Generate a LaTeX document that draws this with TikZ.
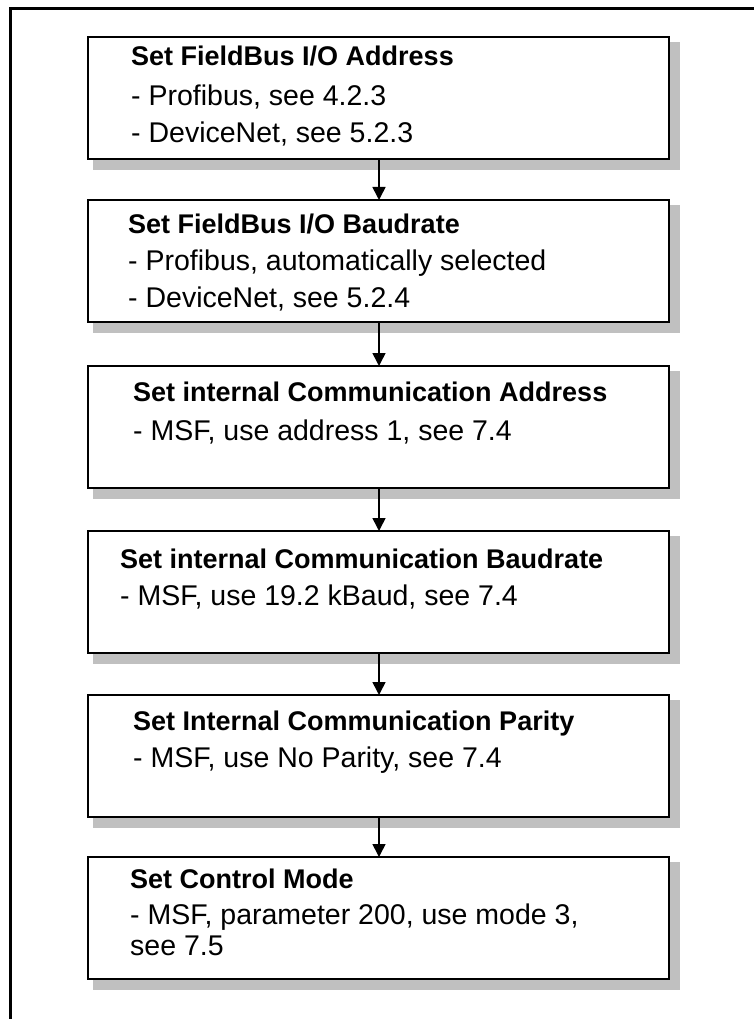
\documentclass[tikz,border=0pt]{standalone}
\usepackage{fontspec}
\setmainfont{Liberation Sans}
\usetikzlibrary{arrows.meta,backgrounds,calc}
\definecolor{shadowgray}{RGB}{192,192,192}
\begin{document}
\begin{tikzpicture}[x=1pt,y=-1pt,
  stepbox/.style={draw=black,line width=2.4pt,fill=white,minimum width=581pt,minimum height=122pt,anchor=north west,inner sep=0pt,outer sep=0pt},
  title/.style={anchor=base west,inner sep=0pt,font=\fontsize{27}{30}\selectfont\bfseries},
  body/.style={anchor=base west,inner sep=0pt,font=\fontsize{28.5}{30}\selectfont},
  flow/.style={line width=1.6pt,-{Triangle[width=13pt,length=13pt]}},
  frame/.style={line width=3pt}
]
\useasboundingbox (0,0) rectangle (754,1019);
\draw[frame] (10,1030) -- (10,8.5) -- (770,8.5);

\node[stepbox] (b1) at (88,37) {};
\node[stepbox] (b2) at (88,200) {};
\node[stepbox] (b3) at (88,366) {};
\node[stepbox] (b4) at (88,531) {};
\node[stepbox] (b5) at (88,695) {};
\node[stepbox] (b6) at (88,857) {};

\begin{scope}[on background layer]
\foreach \b in {b1,b2,b3,b4,b5,b6}{
  \fill[shadowgray] ($(\b.north west)+(5,5)$) rectangle ($(\b.south east)+(11,11)$);
}
\end{scope}

\node[title] (t1) at (131,66) {Set FieldBus I/O Address};
\node[body] (l1a) at (131,106) {- Profibus, see 4.2.3};
\node[body] (l1b) at (131,143) {- DeviceNet, see 5.2.3};

\node[title] (t2) at (128,233) {Set FieldBus I/O Baudrate};
\node[body] (l2a) at (128,270) {- Profibus, automatically selected};
\node[body] (l2b) at (128,307) {- DeviceNet, see 5.2.4};

\node[title] (t3) at (133,401) {Set internal Communication Address};
\node[body] (l3a) at (133,440) {- MSF, use address 1, see 7.4};

\node[title] (t4) at (120,568) {Set internal Communication Baudrate};
\node[body] (l4a) at (120,605) {- MSF, use 19.2 kBaud, see 7.4};

\node[title] (t5) at (133,730) {Set Internal Communication Parity};
\node[body] (l5a) at (133,767) {- MSF, use No Parity, see 7.4};

\node[title] (t6) at (130,888) {Set Control Mode};
\node[body] (l6a) at (130,924) {- MSF, parameter 200, use mode 3,};
\node[body] (l6b) at (130,955) {see 7.5};

\draw[flow] (b1.south -| 379,0) -- (b2.north -| 379,0);
\draw[flow] (b2.south -| 379,0) -- (b3.north -| 379,0);
\draw[flow] (b3.south -| 379,0) -- (b4.north -| 379,0);
\draw[flow] (b4.south -| 379,0) -- (b5.north -| 379,0);
\draw[flow] (b5.south -| 379,0) -- (b6.north -| 379,0);
\end{tikzpicture}
\end{document}
